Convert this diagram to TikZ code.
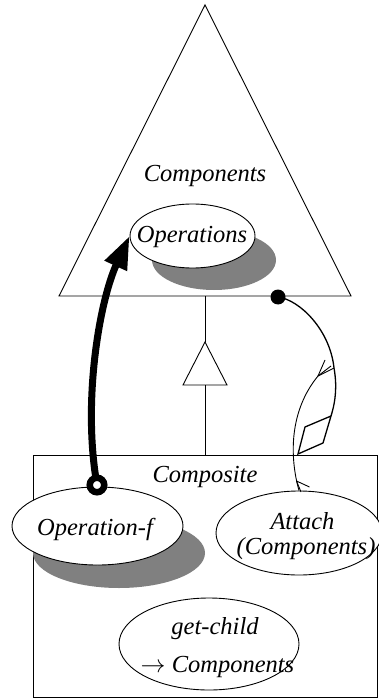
\documentclass[tikz,border=0pt]{standalone}
\usepackage{fontspec}
\setmainfont{Liberation Serif}
\usetikzlibrary{arrows.meta,shapes.geometric}
\definecolor{shadowgray}{RGB}{128,128,128}
\begin{document}
\begin{tikzpicture}[x=1pt,y=-1pt,
  lbl/.style={font=\fontsize{24.5}{26}\selectfont\itshape, inner sep=0, anchor=base},
  oval/.style={ellipse, draw, fill=white, inner sep=0, line width=0.9pt},
  shade/.style={ellipse, fill=shadowgray, inner sep=0},
  thinline/.style={line width=0.9pt},
  medline/.style={line width=1.3pt},
  thickarrow/.style={line width=7pt, -{Triangle[length=33pt,width=23pt]}},
]
\useasboundingbox (0,0) rectangle (379,700);
\clip (0,0) rectangle (379,700);

% class box of the composite
\node[draw, thinline, minimum width=344pt, minimum height=242pt, inner sep=0, outer sep=0,
      anchor=north west] (comp) at (33,455) {};

% Components: the abstract class as a triangle
\draw[thinline, line join=miter] (205,5) -- (351,296) -- (59,296) -- cycle;
\node[lbl] (comptitle) at (205,182) {Components};

% generalisation link
\coordinate (tribase) at (205,296);
\coordinate (inhtop) at (205,342);
\coordinate (inhbase) at (205,385);
\draw[thinline] (tribase) -- (inhtop);
\draw[thinline, fill=white] (inhtop) -- (227,385) -- (183,385) -- cycle;
\draw[thinline] (inhbase) -- (comp.north);

% shadows
\node[shade, minimum width=124pt, minimum height=60pt] (opsshadow) at (214,260) {};
\node[shade, minimum width=172pt, minimum height=70pt] (opfshadow) at (119,553) {};

% operation ovals
\node[oval, minimum width=125pt, minimum height=64pt] (ops) at (192.5,236) {};
\node[lbl] (opstext) at (192,243) {Operations};

\node[lbl] (comptext) at (205,482) {Composite};

\node[oval, minimum width=171pt, minimum height=78pt] (opf) at (97.5,526) {};
\node[lbl] (opftext) at (95,535) {Operation-f};

\node[oval, minimum width=166pt, minimum height=84pt] (attach) at (299,533) {};
\node[lbl] (attach1) at (302.5,529) {Attach};
\node[lbl] (attach2) at (306,554) {(Components)};

\node[oval, minimum width=180pt, minimum height=92pt] (getchild) at (209,644) {};
\node[lbl] (getchild1) at (215,634) {get-child};
\node[lbl] (getchild2) at (217.5,672) {$\rightarrow$ Components};

% forwarding of Operation-f to the children
\coordinate (ring) at (97,485);
\draw[thickarrow] (ring) .. controls (82,400) and (100,300) .. (ops.west);
\node[circle, draw, line width=6.5pt, fill=white, minimum size=14.5pt, inner sep=0] (ringmark) at (ring) {};

% aggregation of the children
\coordinate (junction) at (334,368);
\coordinate (dtop) at (331,416);
\draw[medline] (278,297) .. controls (300,300) and (330,330) .. (junction)
   .. controls (337,385) and (336,400) .. (dtop);
\node[circle, fill=black, minimum size=15pt, inner sep=0] (dot) at (278,297) {};
\draw[medline, line join=miter] (dtop) -- (305,427) -- (298,454) -- (323,443) -- cycle;

% Attach adds to the children
\coordinate (uptip) at (318,376);
\coordinate (lowtip) at (296.5,481);
\draw[thinline] (attach.north) .. controls (289,455) and (290,410) .. (uptip) -- (junction);
\draw[thinline] (uptip) -- ++(7,-16);
\draw[thinline] (uptip) -- ++(13,-10);
\draw[thinline] (lowtip) -- ++(13,6);
\draw[thinline] (lowtip) -- ++(4.5,11);
\end{tikzpicture}
\end{document}
